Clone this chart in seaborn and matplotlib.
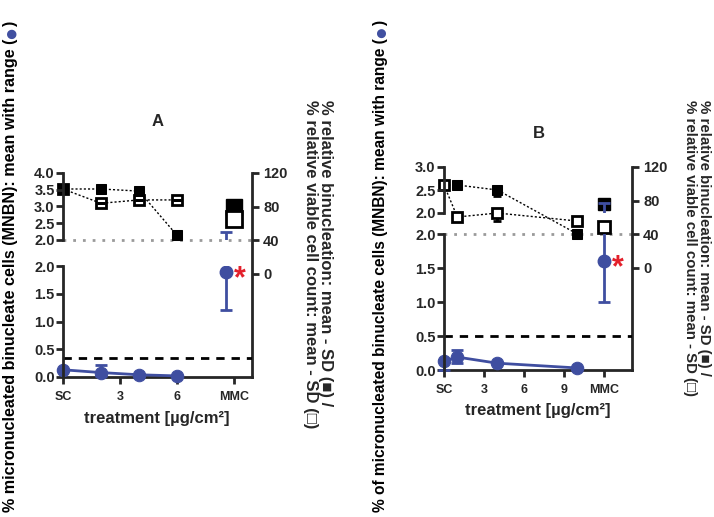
import numpy as np
import pandas as pd
import matplotlib.pyplot as plt
import seaborn as sns

sns.set_style("ticks")
plt.rcParams['font.family'] = ['Liberation Sans', 'DejaVu Sans']
plt.rcParams['font.weight'] = 'bold'

W, H = 714, 517
blue = '#3f4ea0'
red = '#e3202b'
narrow = ['Liberation Sans Narrow', 'Liberation Sans', 'DejaVu Sans']

# ---- panel A ----
a_x = [0, 2, 4, 6]
a_mn = [0.13, 0.08, 0.04, 0.02]
a_mn_lo = [0.13, 0.02, 0.04, 0.02]
a_mn_hi = [0.13, 0.21, 0.04, 0.02]
a_bin = [101, 101, 98.5, 46]
a_via = [101, 84, 88, 88]
a_mmc_dot_x, a_mmc_sq_x = 8.6, 9
a_mmc_mn, a_mmc_lo, a_mmc_hi = 1.89, 1.2, 2.25
a_mmc_bin, a_mmc_bin_sd = 80, 8
a_mmc_via = 65
a_cut = 0.35
a_xticks = [0, 3, 6, 9]
a_xlabels = ['SC', '3', '6', 'MMC']

# ---- panel B ----
b_x = [0, 1, 4, 10]
b_mn = [0.13, 0.19, 0.10, 0.03]
b_mn_lo = [0.0, 0.10, 0.10, 0.03]
b_mn_hi = [0.14, 0.30, 0.10, 0.03]
b_bin = [98.6, 98.6, 92.7, 40.4]
b_bin_sd = [0, 0, 7, 0]
b_via = [98.6, 60.6, 65.3, 55.8]
b_via_sd = [4, 0, 10, 0]
b_mmc_dot_x, b_mmc_sq_x = 12, 12
b_mmc_mn, b_mmc_lo, b_mmc_hi = 1.6, 1.0, 2.22
b_mmc_bin, b_mmc_bin_sd = 76, 5
b_mmc_via = 48.7
b_cut = 0.5
b_xticks = [0, 3, 6, 9, 12]
b_xlabels = ['SC', '3', '6', '9', 'MMC']

fig = plt.figure(figsize=(W / 100, H / 100), dpi=100)


def box(l, t, r, b):
    return [l / W, 1 - b / H, (r - l) / W, (b - t) / H]


def prep(ax):
    ax.set_facecolor('none')
    for s in ax.spines.values():
        s.set_linewidth(2)
        s.set_visible(False)
    ax.tick_params(width=2, length=5, labelsize=10.5, pad=1)
    for lab in ax.get_yticklabels():
        lab.set_family(narrow)


def panel(L, R, top, bot, lo_top, up_bot, xmax, rmin, up_lim, up_ticks, xt, xtl,
          x, mn, lo, hi, bins, bsd, via, vsd, dx, sx, mmn, mlo, mhi, mb, mbsd, mv,
          cut, big, via_on_top):
    # right axis (relative %) spanning whole panel
    ax_r = fig.add_axes(box(L, top, R, bot))
    ax_r.set_xlim(0, xmax)
    ax_r.set_ylim(rmin, 120)
    ax_r.set_yticks([0, 40, 80, 120])
    ax_r.yaxis.tick_right()
    ax_r.set_xticks(xt)
    ax_r.set_xticklabels(xtl)
    prep(ax_r)
    ax_r.spines['right'].set_visible(True)
    ax_r.spines['bottom'].set_visible(True)
    ax_r.tick_params(axis='y', pad=3)
    ax_r.tick_params(axis='x', labelsize=9, pad=5)
    for lab in ax_r.get_yticklabels() + ax_r.get_xticklabels():
        lab.set_family(narrow)
    ax_r.axhline(40, color='#9a9a9a', ls=(0, (1, 2.5)), lw=2)

    z_via = 4 if via_on_top else 2
    sns.lineplot(x=x, y=bins, ax=ax_r, color='black', ls=(0, (1.5, 1.5)), lw=1,
                 marker='s', markersize=7, markeredgecolor='black', clip_on=False, zorder=3)
    sns.lineplot(x=x, y=via, ax=ax_r, color='black', ls=(0, (1.5, 1.5)), lw=1,
                 marker='s', markersize=7, markerfacecolor='white',
                 markeredgecolor='black', markeredgewidth=2, clip_on=False, zorder=z_via)
    ax_r.errorbar(x, bins, yerr=[bsd, np.zeros(len(x))], fmt='none', ecolor='black',
                  elinewidth=2, capsize=3, capthick=2)
    ax_r.errorbar(x, via, yerr=[vsd, np.zeros(len(x))], fmt='none', ecolor='black',
                  elinewidth=2, capsize=3, capthick=2)
    ax_r.errorbar([sx], [mb], yerr=[[mbsd], [0]], fmt='none', ecolor='black',
                  elinewidth=2, capsize=3, capthick=2)
    ax_r.plot([sx], [mb], marker='s', markersize=big, color='black', ls='none')
    ax_r.plot([sx], [mv], marker='s', markersize=big, markerfacecolor='white',
              markeredgecolor='black', markeredgewidth=2, ls='none')

    # lower left axis (MNBN 0-2)
    ax_lo = fig.add_axes(box(L, lo_top, R, bot))
    ax_lo.set_xlim(0, xmax)
    ax_lo.set_ylim(0, 2)
    ax_lo.set_yticks([0, 0.5, 1.0, 1.5, 2.0])
    ax_lo.set_yticklabels(['0.0', '0.5', '1.0', '1.5', '2.0'])
    ax_lo.set_xticks([])
    prep(ax_lo)
    ax_lo.spines['left'].set_visible(True)
    ax_lo.axhline(cut, color='black', ls=(0, (3, 2.5)), lw=2)
    ax_lo.errorbar(x, mn, yerr=[np.subtract(mn, lo), np.subtract(hi, mn)], fmt='none',
                   ecolor=blue, elinewidth=2, capsize=4, capthick=2, clip_on=False)
    sns.lineplot(x=x, y=mn, ax=ax_lo, color=blue, lw=2, marker='o', markersize=9,
                 markeredgecolor=blue, clip_on=False)
    ax_lo.errorbar([dx], [mmn], yerr=[[mmn - mlo], [mhi - mmn]], fmt='o', color=blue,
                   markersize=9, elinewidth=2, capsize=4, capthick=2)
    ax_lo.annotate('*', (dx, mmn), xytext=(10, -5), textcoords='offset points',
                   color=red, fontsize=22, ha='center', va='center', fontweight='bold')

    # upper left axis (MNBN broken segment)
    ax_up = fig.add_axes(box(L, top, R, up_bot))
    ax_up.set_xlim(0, xmax)
    ax_up.set_ylim(*up_lim)
    ax_up.set_yticks(up_ticks)
    ax_up.set_yticklabels([f'{v:.1f}' for v in up_ticks])
    ax_up.set_xticks([])
    prep(ax_up)
    ax_up.spines['left'].set_visible(True)
    ax_up.errorbar([dx], [mmn], yerr=[[mmn - mlo], [mhi - mmn]], fmt='none',
                   ecolor=blue, elinewidth=2, capsize=4, capthick=2)
    return ax_r


panel(63, 252, 173, 377, 266, 240, 9.95, -122.4, (2, 4), [2.0, 2.5, 3.0, 3.5, 4.0],
      a_xticks, a_xlabels, a_x, a_mn, a_mn_lo, a_mn_hi, a_bin, [0] * 4, a_via, [0] * 4,
      a_mmc_dot_x, a_mmc_sq_x, a_mmc_mn, a_mmc_lo, a_mmc_hi, a_mmc_bin, a_mmc_bin_sd,
      a_mmc_via, a_cut, 11, False)
panel(444, 632, 167, 370, 234, 213, 14.1, -121.2, (2, 3), [2.0, 2.5, 3.0],
      b_xticks, b_xlabels, b_x, b_mn, b_mn_lo, b_mn_hi, b_bin, b_bin_sd, b_via, b_via_sd,
      b_mmc_dot_x, b_mmc_sq_x, b_mmc_mn, b_mmc_lo, b_mmc_hi, b_mmc_bin, b_mmc_bin_sd,
      b_mmc_via, b_cut, 8, True)

# titles and x labels
fig.text(158 / W, 1 - 122 / H, 'A', fontsize=12, ha='center', va='center')
fig.text(539 / W, 1 - 134 / H, 'B', fontsize=12, ha='center', va='center')
fig.text(157 / W, 1 - 418 / H, 'treatment [µg/cm²]', fontsize=12, ha='center', va='center')
fig.text(538 / W, 1 - 410 / H, 'treatment [µg/cm²]', fontsize=12, ha='center', va='center')

# right-hand axis titles
fig.text(318 / W, 1 - 100 / H,
         '% relative binucleation: mean - SD (■) /\n% relative viable cell count: mean - SD (□)',
         rotation=270, ha='center', va='top', multialignment='left', fontsize=12,
         linespacing=1.0)
fig.text(697 / W, 1 - 100 / H,
         '% relative binucleation: mean - SD (■) /\n% relative viable cell count: mean - SD (□)',
         rotation=270, ha='center', va='top', multialignment='left', fontsize=10.8,
         linespacing=1.0)

# left-hand axis titles with blue dot
renderer = fig.canvas.get_renderer()


def side_label(xc, y0, text, size):
    y = y0
    for s, c, k in [(text, 'black', 1.0), ('●', blue, 1.35), (')', 'black', 1.0)]:
        t = fig.text(xc / W, 1 - y / H, s, rotation=90, rotation_mode='anchor',
                     ha='left', va='center', color=c, fontsize=size * k)
        y -= t.get_window_extent(renderer=renderer).height


side_label(11, 512, '% micronucleated binucleate cells (MNBN): mean with range (', 11.6)
side_label(381, 512, '% of micronucleated binucleate cells (MNBN): mean with range (', 11.2)

fig.savefig('out.png', dpi=100)
